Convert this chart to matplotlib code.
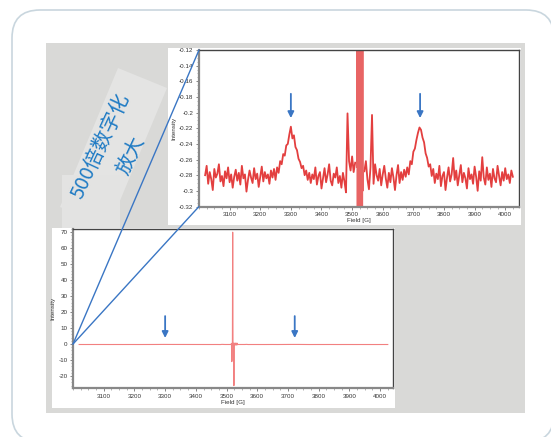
import numpy as np
import matplotlib
matplotlib.use("Agg")
import matplotlib.pyplot as plt
from matplotlib.patches import FancyBboxPatch, Rectangle, Polygon, ConnectionPatch
from matplotlib.ticker import MultipleLocator, FuncFormatter

plt.rcParams["font.family"] = ["Liberation Sans", "DejaVu Sans"]
plt.rcParams["axes.unicode_minus"] = False

# EPR spectrum (field in G, intensity in a.u.)
# low-field part, 3020..3510 G every 5 G
int_low = [
    -0.280, -0.268, -0.291, -0.276, -0.285, -0.299, -0.272, -0.283, -0.278, -0.266,
    -0.288, -0.281, -0.294, -0.275, -0.284, -0.270, -0.289, -0.279, -0.296, -0.282,
    -0.273, -0.287, -0.277, -0.292, -0.268, -0.284, -0.279, -0.301, -0.286, -0.274,
    -0.283, -0.290, -0.271, -0.285, -0.278, -0.295, -0.282, -0.269, -0.288, -0.276,
    -0.284, -0.279, -0.291, -0.274,
    # first broad line, ~3300 G
    -0.283, -0.272, -0.286, -0.270, -0.277, -0.262, -0.266, -0.253, -0.255, -0.242,
    -0.240, -0.228, -0.218, -0.233, -0.229, -0.244, -0.248, -0.259, -0.263, -0.271,
    -0.268, -0.280, -0.274, -0.286, -0.277, -0.290, -0.279,
    -0.285, -0.270, -0.292, -0.281, -0.276, -0.297, -0.284, -0.271, -0.289, -0.279,
    -0.266, -0.287, -0.293, -0.278, -0.283, -0.270, -0.290, -0.281, -0.296, -0.277,
    -0.288, -0.302, -0.201, -0.262, -0.274, -0.256, -0.276, -0.264,
]
# strong central signal, 3515..3537 G every 1 G
int_mid = [
    -0.270, 0.45, -11.0, -10.0, 0.60, 70.0, -0.55, 0.50, -0.40, -26.0,
    0.55, -0.50, 0.45, -0.60, 0.50, -0.45, 0.60, -0.50, 0.40, -0.55,
    0.50, -0.30, -0.275,
]
# high-field part, 3540..4025 G every 5 G
int_high = [
    -0.275, -0.262, -0.285, -0.298, -0.270, -0.203, -0.291, -0.266, -0.280,
    -0.287, -0.272, -0.293, -0.279, -0.268, -0.284, -0.296, -0.277, -0.289, -0.271,
    -0.283, -0.299, -0.280, -0.267, -0.290, -0.276, -0.286, -0.273,
    # second broad line, ~3722 G
    -0.282, -0.270, -0.279, -0.262, -0.266, -0.250, -0.246, -0.235, -0.226, -0.219,
    -0.222, -0.232, -0.238, -0.252, -0.258, -0.269, -0.266, -0.281,
    -0.272, -0.290, -0.278, -0.285, -0.268, -0.294, -0.281, -0.276, -0.299, -0.283,
    -0.270, -0.288, -0.279, -0.258, -0.286, -0.274, -0.293, -0.280, -0.267, -0.289,
    -0.277, -0.284, -0.297, -0.271, -0.285, -0.279, -0.291, -0.269, -0.282, -0.300,
    -0.275, -0.287, -0.257, -0.283, -0.292, -0.270, -0.286, -0.278, -0.295, -0.272,
    -0.284, -0.289, -0.268, -0.281, -0.293, -0.276, -0.287, -0.271, -0.285, -0.279,
    -0.290, -0.274, -0.282,
]
field_low = np.arange(3020, 3515, 5)
field_mid = np.arange(3515, 3538, 1)
field_high = np.arange(3540, 4030, 5)
field = np.concatenate([field_low, field_mid, field_high])
intensity = np.array(int_low + int_mid + int_high)

peak_fields = [3300, 3722]
x_ticks = [3100, 3200, 3300, 3400, 3500, 3600, 3700, 3800, 3900, 4000]
y_ticks_zoom = [-0.32, -0.30, -0.28, -0.26, -0.24, -0.22, -0.20, -0.18, -0.16, -0.14, -0.12]
y_ticks_full = [-20, -10, 0, 10, 20, 30, 40, 50, 60, 70]
note_lines = ["500倍数字化", "放大"]

RED = "#e02a2a"
BLUE = "#3a76c4"

fig = plt.figure(figsize=(5.51, 4.37), dpi=100)

# background drawn in pixel units
bg = fig.add_axes([0, 0, 1, 1], zorder=0)
bg.set_xlim(0, 551)
bg.set_ylim(437, 0)
bg.axis("off")
bg.add_patch(FancyBboxPatch((12, 10), 542, 432, boxstyle="round,pad=0,rounding_size=28",
                            fc="white", ec="#c9d6de", lw=1.2))
bg.add_patch(Rectangle((46, 43), 479, 370, fc="#d9d9d7", ec="none"))
bg.add_patch(Polygon([(118, 68), (167, 88), (109, 227), (60, 207)], fc="#e4e4e3", ec="none"))
bg.add_patch(Rectangle((62, 175), 58, 53, fc="#e3e3e2", ec="none"))
bg.add_patch(Rectangle((168, 48), 353, 177, fc="white", ec="none"))
bg.add_patch(Rectangle((52, 228), 343, 180, fc="white", ec="none"))
for (tx, ty), line in zip([(101, 146), (131, 156)], note_lines):
    bg.text(tx, ty, line, rotation=65, ha="center", va="center", rotation_mode="anchor",
            fontsize=14.5, color="#1f7bc4", family=["Noto Sans CJK SC", "DejaVu Sans"])


def style(ax):
    for s in ["top", "right"]:
        ax.spines[s].set_color("#444444")
        ax.spines[s].set_linewidth(1.0)
    for s in ["left", "bottom"]:
        ax.spines[s].set_color("#888888")
        ax.spines[s].set_linewidth(1.6)
    ax.tick_params(which="major", labelsize=4.5, length=2.5, width=0.5, colors="#555555",
                   labelcolor="#333333", pad=1.5)
    ax.tick_params(which="minor", length=1.5, width=0.4, colors="#777777")
    ax.set_xticks(x_ticks)
    ax.xaxis.set_minor_locator(MultipleLocator(25))
    ax.yaxis.set_major_formatter(FuncFormatter(lambda v, p: "%g" % round(v, 4)))
    ax.set_xlabel("Field [G]", fontsize=4.5, labelpad=1, color="#333333")
    ax.set_ylabel("Intensity", fontsize=4.5, labelpad=2, color="#333333")


# zoomed spectrum (x500)
ax_top = fig.add_axes([199 / 551, 1 - 206.5 / 437, 320 / 551, 156.5 / 437], zorder=2)
ax_top.plot(field_low, int_low, color=RED, lw=1.3, alpha=0.9)
ax_top.plot(field_high, int_high, color=RED, lw=1.3, alpha=0.9)
ax_top.plot(field_mid, int_mid, color="#e86464", lw=0.8)
ax_top.set_xlim(3000, 4045)
ax_top.set_ylim(-0.32, -0.12)
ax_top.set_yticks(y_ticks_zoom)
ax_top.yaxis.set_minor_locator(MultipleLocator(0.005))
style(ax_top)
for pf in peak_fields:
    ax_top.annotate("", xy=(pf, -0.207), xytext=(pf, -0.176),
                    arrowprops=dict(arrowstyle="-|>", color=BLUE, lw=1.3,
                                    mutation_scale=9, shrinkA=0, shrinkB=0))

# full spectrum
ax_bot = fig.add_axes([73 / 551, 1 - 388 / 437, 320 / 551, 159 / 437], zorder=2)
ax_bot.plot(field, intensity, color="#f28080", lw=0.8)
ax_bot.set_xlim(3000, 4042)
ax_bot.set_ylim(-27.5, 72)
ax_bot.set_yticks(y_ticks_full)
ax_bot.yaxis.set_minor_locator(MultipleLocator(2))
style(ax_bot)
for pf in peak_fields:
    ax_bot.annotate("", xy=(pf, 3.8), xytext=(pf, 17.5),
                    arrowprops=dict(arrowstyle="-|>", color=BLUE, lw=1.3,
                                    mutation_scale=9, shrinkA=0, shrinkB=0))

# zoom connector lines
for corner in [(0, 1), (0, 0)]:
    con = ConnectionPatch(xyA=(3000, 0), coordsA=ax_bot.transData,
                          xyB=corner, coordsB=ax_top.transAxes,
                          color=BLUE, lw=1.0, zorder=10)
    fig.add_artist(con)

fig.savefig("out.png", dpi=100)
